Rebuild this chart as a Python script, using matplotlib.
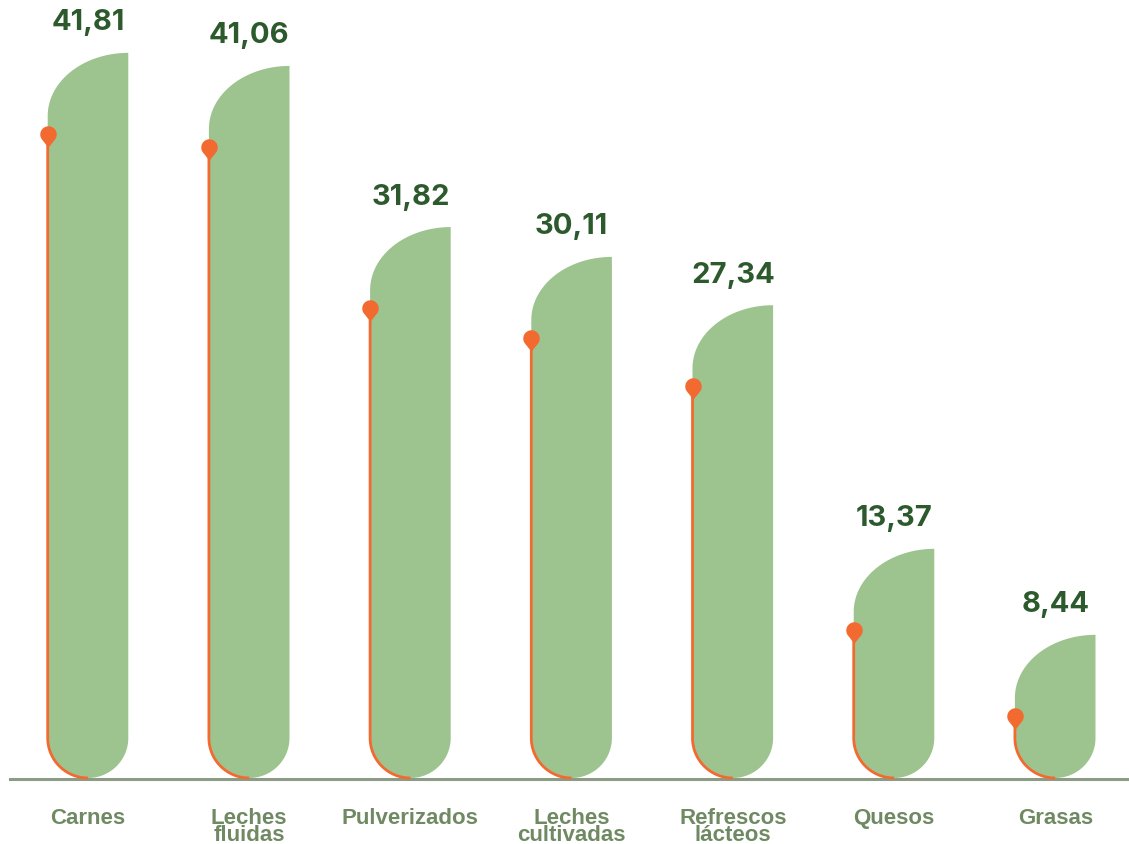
import numpy as np
import matplotlib
matplotlib.use("Agg")
import matplotlib.pyplot as plt
from matplotlib.patches import Polygon
from matplotlib.path import Path

categories = ["Carnes", "Leches\nfluidas", "Pulverizados", "Leches\ncultivadas",
              "Refrescos\nlácteos", "Quesos", "Grasas"]
values = [41.81, 41.06, 31.82, 30.11, 27.34, 13.37, 8.44]
labels = ["41,81", "41,06", "31,82", "30,11", "27,34", "13,37", "8,44"]

bar_color = "#9DC48F"
line_color = "#F26A30"
value_color = "#2C5A2C"
cat_color = "#6F8A62"
axis_color = "#8C9C84"

W, H = 1129, 844
px_x = 161.2          # pixels per category step
px_y = 17.44          # pixels per unit value
x0_px = 88            # pixel of first bar center
base_px = 62          # value zero, pixels from bottom

fig = plt.figure(figsize=(W / 100, H / 100), dpi=100)
ax = fig.add_axes([0, 0, 1, 1])
ax.set_xlim(-x0_px / px_x, (W - x0_px) / px_x)
ax.set_ylim(-base_px / px_y, (H - base_px) / px_y)
ax.axis("off")

bw = 0.5                  # bar width in category units
y0 = 4 / px_y             # where the bars sit
top_ry = 63 / px_y        # top-left elliptical corner height
bot_ry = 40 / px_y        # bottom round height
pin_drop = 81 / px_y

# teardrop marker, tip pointing down
a = np.linspace(np.radians(-40), np.radians(220), 40)
drop = list(zip(np.cos(a), np.sin(a))) + [(0, -1.6)]
pin = Path(drop + [drop[0]], closed=True)


def bar_outline(c, v):
    l, r = c - bw / 2, c + bw / 2
    pts = [(r, v), (r, y0 + bot_ry)]
    t = np.linspace(0, np.pi / 2, 30)
    pts += list(zip(c + (bw / 2) * np.cos(t), y0 + bot_ry - bot_ry * np.sin(t)))
    pts += list(zip(c - (bw / 2) * np.sin(t), y0 + bot_ry - bot_ry * np.cos(t)))
    pts.append((l, v - top_ry))
    pts += list(zip(r - bw * np.cos(t), v - top_ry + top_ry * np.sin(t)))
    return pts


t = np.linspace(0, np.pi / 2, 30)
for i, (v, lab, cat) in enumerate(zip(values, labels, categories)):
    ax.add_patch(Polygon(bar_outline(i, v), closed=True, fc=bar_color, ec="none", zorder=2))
    l = i - bw / 2
    pin_y = v - pin_drop
    lx = [l, l] + list(i - (bw / 2) * np.cos(t))
    ly = [pin_y, y0 + bot_ry] + list(y0 + bot_ry - bot_ry * np.sin(t))
    ax.plot(lx, ly, color=line_color, lw=2, solid_capstyle="butt", zorder=3)
    ax.plot(l, pin_y, marker=pin, ms=19, color=line_color, mec="none", zorder=4)
    ax.text(i, v + 30 / px_y, lab, ha="center", va="center", fontsize=21, fontweight="bold",
            color=value_color, family="Inter")
    ax.text(i, (H - 808 - base_px) / px_y, cat, ha="center", va="top", fontsize=16,
            fontweight="bold", color=cat_color, linespacing=0.78, family="Liberation Sans")

ax.plot([-(x0_px - 10) / px_x, (W - x0_px) / px_x], [3 / px_y, 3 / px_y],
        color=axis_color, lw=2.2, zorder=1)

fig.savefig("out.png", dpi=100)
